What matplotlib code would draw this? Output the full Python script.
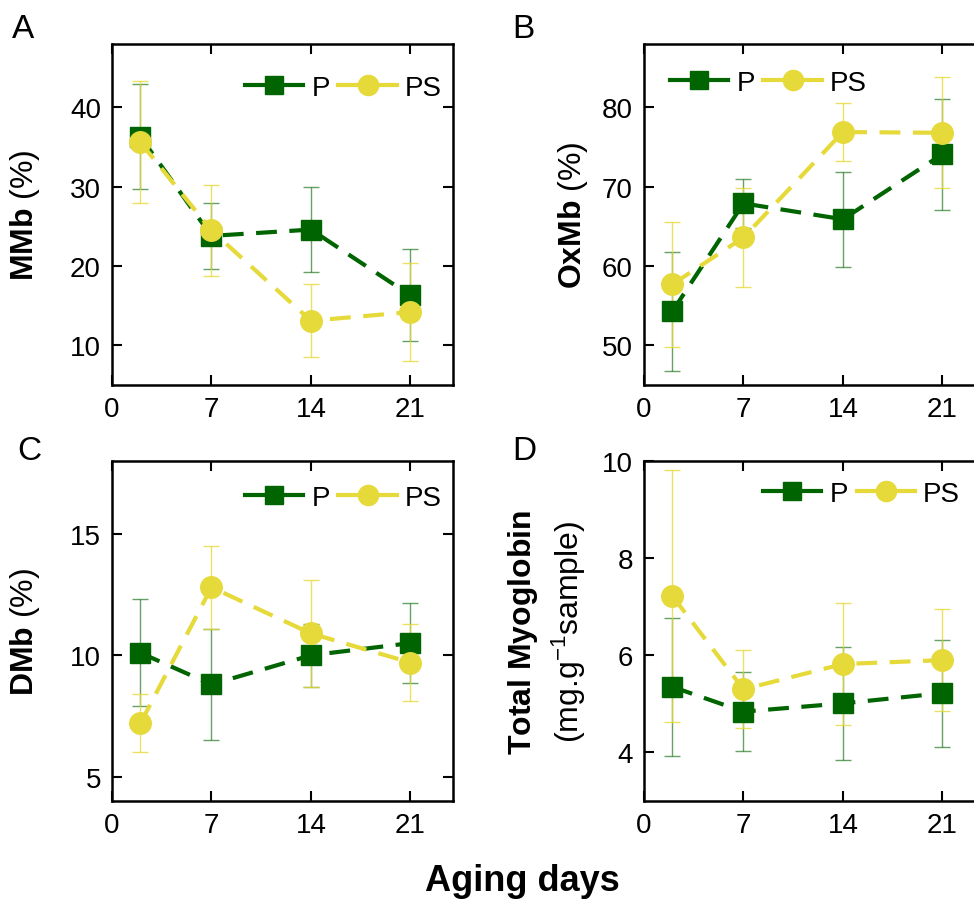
import numpy as np
import matplotlib
matplotlib.use('Agg')
import matplotlib.pyplot as plt
from matplotlib.lines import Line2D

plt.rcParams['font.family'] = ['Liberation Sans', 'DejaVu Sans']
plt.rcParams['mathtext.fontset'] = 'custom'
plt.rcParams['mathtext.rm'] = 'Liberation Sans'
plt.rcParams['mathtext.bf'] = 'Liberation Sans:bold'
plt.rcParams['mathtext.it'] = 'Liberation Sans:italic'

# Tage der Reifung
tage = [2, 7, 14, 21]

# A - MMb (%)
mmb_p = [36.3, 23.8, 24.6, 16.3]
mmb_p_err = [6.6, 4.2, 5.4, 5.8]
mmb_ps = [35.6, 24.5, 13.1, 14.2]
mmb_ps_err = [7.7, 5.7, 4.6, 6.2]

# B - OxMb (%)
oxmb_p = [54.3, 67.9, 65.9, 74.1]
oxmb_p_err = [7.5, 3.1, 6.0, 7.0]
oxmb_ps = [57.7, 63.6, 76.9, 76.8]
oxmb_ps_err = [7.9, 6.2, 3.6, 7.0]

# C - DMb (%)
dmb_p = [10.1, 8.8, 10.0, 10.5]
dmb_p_err = [2.2, 2.3, 1.3, 1.65]
dmb_ps = [7.2, 12.8, 10.9, 9.7]
dmb_ps_err = [1.2, 1.7, 2.2, 1.6]

# D - Gesamtmyoglobin
tmb_p = [5.35, 4.84, 5.01, 5.22]
tmb_p_err = [1.42, 0.82, 1.17, 1.1]
tmb_ps = [7.22, 5.3, 5.82, 5.9]
tmb_ps_err = [2.6, 0.8, 1.25, 1.05]

gruen = '#006400'
gelb = '#E6D93A'

fig = plt.figure(figsize=(9.74, 9.03), dpi=100)

W, H = 974, 903

# Legendeneintraege mit durchgezogener Linie
leg_handles = [Line2D([], [], color=gruen, linewidth=3, marker='s', markersize=13),
               Line2D([], [], color=gelb, linewidth=3, marker='o', markersize=14.5)]


def achse(links, oben, breite=341, hoehe=341):
    return fig.add_axes([links / W, 1 - (oben + hoehe) / H, breite / W, hoehe / H])


def panel(ax, p, p_err, ps, ps_err, ylim, yticks, ylabel, lx, leg_anchor):
    ax.errorbar(tage, p, yerr=p_err, fmt='none', ecolor=gruen, elinewidth=1, capsize=6,
                capthick=1, alpha=0.6, zorder=2)
    ax.errorbar(tage, ps, yerr=ps_err, fmt='none', ecolor=gelb, elinewidth=1, capsize=6,
                capthick=1, alpha=0.8, zorder=2)
    ax.plot(tage, p, color=gruen, linestyle=(0, (5, 3)), linewidth=3, marker='s',
            markersize=14, zorder=3)
    ax.plot(tage, ps, color=gelb, linestyle=(0, (5, 3)), linewidth=3, marker='o',
            markersize=15.5, zorder=4)
    ax.set_xlim(0, 24)
    ax.set_ylim(*ylim)
    ax.set_xticks([0, 7, 14, 21])
    ax.set_yticks(yticks)
    ax.tick_params(direction='in', length=7, width=1.5, labelsize=20, top=True, right=True, pad=8)
    for s in ax.spines.values():
        s.set_linewidth(1.8)
    ax.set_ylabel(ylabel, fontsize=23, linespacing=1.35)
    ax.yaxis.set_label_coords(lx, 0.5)
    ax.legend(leg_handles, ['P', 'PS'], loc='center left', bbox_to_anchor=leg_anchor, ncol=2,
              frameon=False, fontsize=20, handlelength=2.1, handletextpad=0.3,
              columnspacing=0.3, borderaxespad=0, borderpad=0)


axA = achse(112, 45)
axB = achse(644, 45)
axC = achse(112, 462, hoehe=340)
axD = achse(644, 462, hoehe=340)

panel(axA, mmb_p, mmb_p_err, mmb_ps, mmb_ps_err, (5, 48), [10, 20, 30, 40],
      r'$\mathbf{MMb}$ (%)', -0.205, (0.39, 0.871))
panel(axB, oxmb_p, oxmb_p_err, oxmb_ps, oxmb_ps_err, (45, 88), [50, 60, 70, 80],
      r'$\mathbf{OxMb}$ (%)', -0.158, (0.076, 0.886))
panel(axC, dmb_p, dmb_p_err, dmb_ps, dmb_ps_err, (4, 18), [5, 10, 15],
      r'$\mathbf{DMb}$ (%)', -0.205, (0.39, 0.891))
panel(axD, tmb_p, tmb_p_err, tmb_ps, tmb_ps_err, (3, 10), [4, 6, 8, 10],
      '$\\mathbf{Total\\ Myoglobin}$\n(mg.g$^{-1}$sample)', -0.164, (0.349, 0.903))

# Buchstaben der Teilbilder
for buchst, x, y in [('A', 12, 30), ('B', 512, 30), ('C', 17, 452), ('D', 512, 452)]:
    fig.text(x / W, 1 - y / H, buchst, fontsize=24, ha='left', va='center')

fig.text(522 / W, 1 - 882 / H, 'Aging days', fontsize=26, fontweight='bold', ha='center', va='center')

fig.savefig('out.png', dpi=100)
